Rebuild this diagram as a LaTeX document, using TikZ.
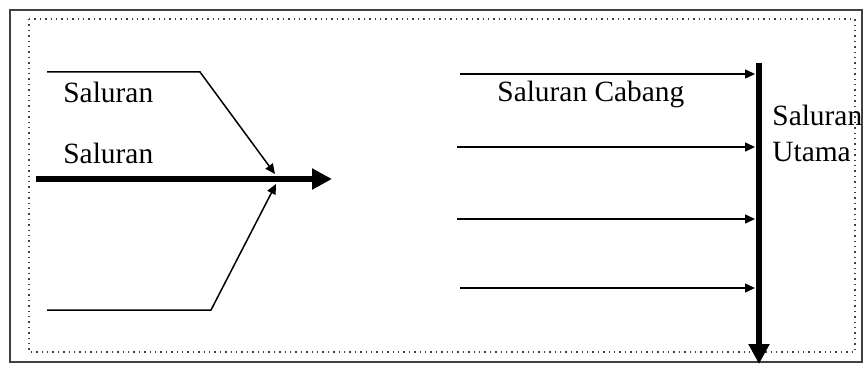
\documentclass[tikz,border=0pt]{standalone}
\usepackage{fontspec}
\setmainfont{Liberation Serif}
\usepackage{tikz}
\usetikzlibrary{arrows.meta}
\tikzstyle{node:label}=[anchor=base west, inner sep=0pt, align=left, font=\fontsize{14.7}{18}\selectfont]
\tikzstyle{draw:branch}=[-{Triangle[length=5pt,width=4.5pt]}, line width=0.75pt]
\tikzstyle{draw:main}=[-{Triangle[length=10pt,width=10pt]}, line width=3pt]
\tikzstyle{draw:frame}=[draw=black!75, line width=0.8pt]
\tikzstyle{draw:inner}=[draw=black!75, dotted, line width=0.7pt]
\begin{document}
\begin{tikzpicture}[x=0.5pt, y=-0.5pt]
        \useasboundingbox (0,0) rectangle (865,369);

        % Frames
        \draw[draw:frame] (10,10) rectangle (862,362);
        \draw[draw:inner] (29,19) rectangle (855,352);

        % Left: branches joining a channel
        \coordinate (top_start) at (47,72);
        \coordinate (top_bend) at (200,72);
        \coordinate (bot_start) at (47,310);
        \coordinate (bot_bend) at (211,310);
        \coordinate (join_top) at (275,174);
        \coordinate (join_bot) at (276,184);
        \coordinate (chan_start) at (36,179);
        \coordinate (chan_end) at (332,179);

        \draw[draw:main] (chan_start) -- (chan_end);
        \draw[draw:branch] (top_start) -- (top_bend) -- (join_top);
        \draw[draw:branch] (bot_start) -- (bot_bend) -- (join_bot);

        % Right: branch channels into main channel
        \coordinate (main_start) at (759,63);
        \coordinate (main_end) at (759,364);
        \draw[draw:main] (main_start) -- (main_end);

        \coordinate (b1_start) at (460,74);
        \coordinate (b1_end) at (755,74);
        \coordinate (b2_start) at (457,147);
        \coordinate (b2_end) at (755,147);
        \coordinate (b3_start) at (457,219);
        \coordinate (b3_end) at (755,219);
        \coordinate (b4_start) at (460,288);
        \coordinate (b4_end) at (755,288);
        \draw[draw:branch] (b1_start) -- (b1_end);
        \draw[draw:branch] (b2_start) -- (b2_end);
        \draw[draw:branch] (b3_start) -- (b3_end);
        \draw[draw:branch] (b4_start) -- (b4_end);

        % Labels
        \node[node:label] (lbl_top) at (63,102) {Saluran};
        \node[node:label] (lbl_chan) at (63,163) {Saluran};
        \node[node:label] (lbl_cabang) at (497,101) {Saluran Cabang};
        \node[node:label] (lbl_utama) at (772,161) {Saluran\\Utama};

    \end{tikzpicture}
\end{document}
